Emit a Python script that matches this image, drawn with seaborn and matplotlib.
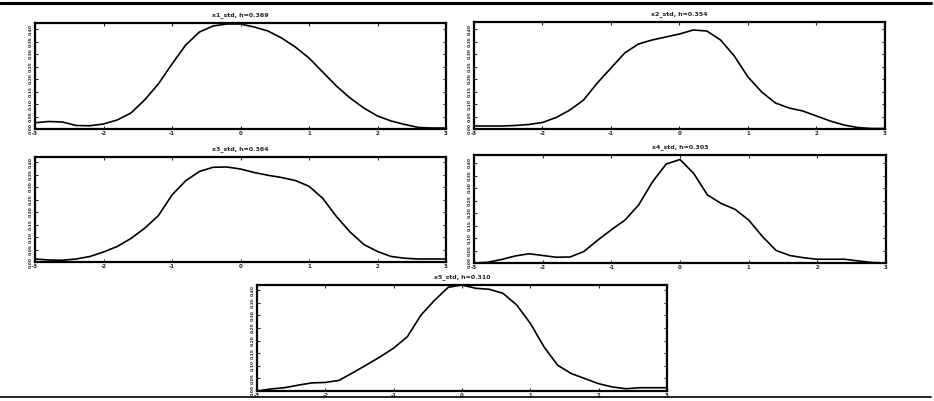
import matplotlib.pyplot as plt
import matplotlib.lines as mlines
import numpy as np
import pandas as pd
import seaborn as sns

# evaluation grid (standardised values) and estimated densities
grid = [-3.0, -2.8, -2.6, -2.4, -2.2, -2.0, -1.8, -1.6, -1.4, -1.2, -1.0,
        -0.8, -0.6, -0.4, -0.2, 0.0, 0.2, 0.4, 0.6, 0.8, 1.0,
        1.2, 1.4, 1.6, 1.8, 2.0, 2.2, 2.4, 2.6, 2.8, 3.0]

dens_x1 = [0.025, 0.030, 0.028, 0.014, 0.013, 0.020, 0.036, 0.064, 0.116, 0.180, 0.260,
           0.336, 0.388, 0.412, 0.420, 0.420, 0.408, 0.392, 0.364, 0.328, 0.284,
           0.228, 0.172, 0.124, 0.084, 0.052, 0.032, 0.018, 0.006, 0.004, 0.004]
dens_x2 = [0.012, 0.012, 0.012, 0.014, 0.018, 0.026, 0.046, 0.076, 0.116, 0.184, 0.244,
           0.304, 0.340, 0.356, 0.368, 0.380, 0.396, 0.392, 0.356, 0.292, 0.208,
           0.148, 0.104, 0.084, 0.072, 0.052, 0.032, 0.016, 0.006, 0.002, 0.002]
dens_x3 = [0.012, 0.008, 0.007, 0.012, 0.022, 0.040, 0.062, 0.094, 0.135, 0.185, 0.268,
           0.325, 0.362, 0.379, 0.380, 0.372, 0.358, 0.347, 0.338, 0.326, 0.303,
           0.255, 0.182, 0.120, 0.070, 0.042, 0.022, 0.015, 0.012, 0.012, 0.012]
dens_x4 = [0.000, 0.003, 0.014, 0.028, 0.037, 0.030, 0.023, 0.024, 0.046, 0.091, 0.133,
           0.172, 0.233, 0.325, 0.396, 0.414, 0.358, 0.272, 0.238, 0.215, 0.172,
           0.106, 0.050, 0.030, 0.021, 0.015, 0.015, 0.015, 0.008, 0.002, 0.000]
dens_x5 = [0.000, 0.008, 0.013, 0.023, 0.032, 0.034, 0.042, 0.072, 0.103, 0.135, 0.170,
           0.215, 0.301, 0.360, 0.411, 0.420, 0.407, 0.403, 0.387, 0.341, 0.268,
           0.175, 0.102, 0.069, 0.049, 0.029, 0.016, 0.009, 0.013, 0.013, 0.013]

titles = ["x1_std, h=0.369", "x2_std, h=0.354", "x3_std, h=0.364",
          "x4_std, h=0.303", "x5_std, h=0.310"]
x_ticks = [-3, -2, -1, 0, 1, 2, 3]

sns.set_style("ticks")
plt.rcParams["font.family"] = ["DejaVu Sans"]

fig = plt.figure(figsize=(9.34, 4.01), dpi=100)
W, H = 934, 401
# axes boxes in pixels: left, top, right, bottom
boxes = [(35, 23, 446, 129), (474, 22, 885, 129),
         (35, 157, 446, 262), (474, 155, 886, 263),
         (257, 285, 667, 391)]
ytops = [0.424, 0.428, 0.42, 0.432, 0.42]
series = [dens_x1, dens_x2, dens_x3, dens_x4, dens_x5]

for (l, t, r, b), dens, title, ytop in zip(boxes, series, titles, ytops):
    ax = fig.add_axes([l / W, 1 - b / H, (r - l) / W, (b - t) / H])
    df = pd.DataFrame({"x": grid, "density": dens})
    sns.lineplot(data=df, x="x", y="density", ax=ax, color="black", linewidth=1.2)
    ax.set_xlim(-3, 3)
    ax.set_ylim(0, ytop)
    ax.set_xticks(x_ticks)
    ax.set_xticklabels([str(v) for v in x_ticks], fontsize=4, fontweight="bold")
    yt = np.round(np.arange(0, ytop, 0.05), 2)
    ax.set_yticks(yt)
    ax.set_yticklabels([f"{v:.2f}" for v in yt], fontsize=3.2, rotation=90,
                       va="center", fontweight="bold")
    ax.tick_params(direction="in", length=2, width=0.8, pad=1.5,
                   top=True, right=True)
    ax.set_xlabel("")
    ax.set_ylabel("")
    ax.set_title(title, fontsize=4.5, fontweight="bold", pad=5)
    for sp in ax.spines.values():
        sp.set_visible(True)
        sp.set_linewidth(1.6)
        sp.set_color("black")

# horizontal rules framing the figure
fig.add_artist(mlines.Line2D([0, 0.997], [1 - 2.5 / H, 1 - 2.5 / H],
                             color="black", linewidth=2.2))
fig.add_artist(mlines.Line2D([0, 0.997], [1 - 397 / H, 1 - 397 / H],
                             color="black", linewidth=1.2))

fig.savefig("out.png", dpi=100)
